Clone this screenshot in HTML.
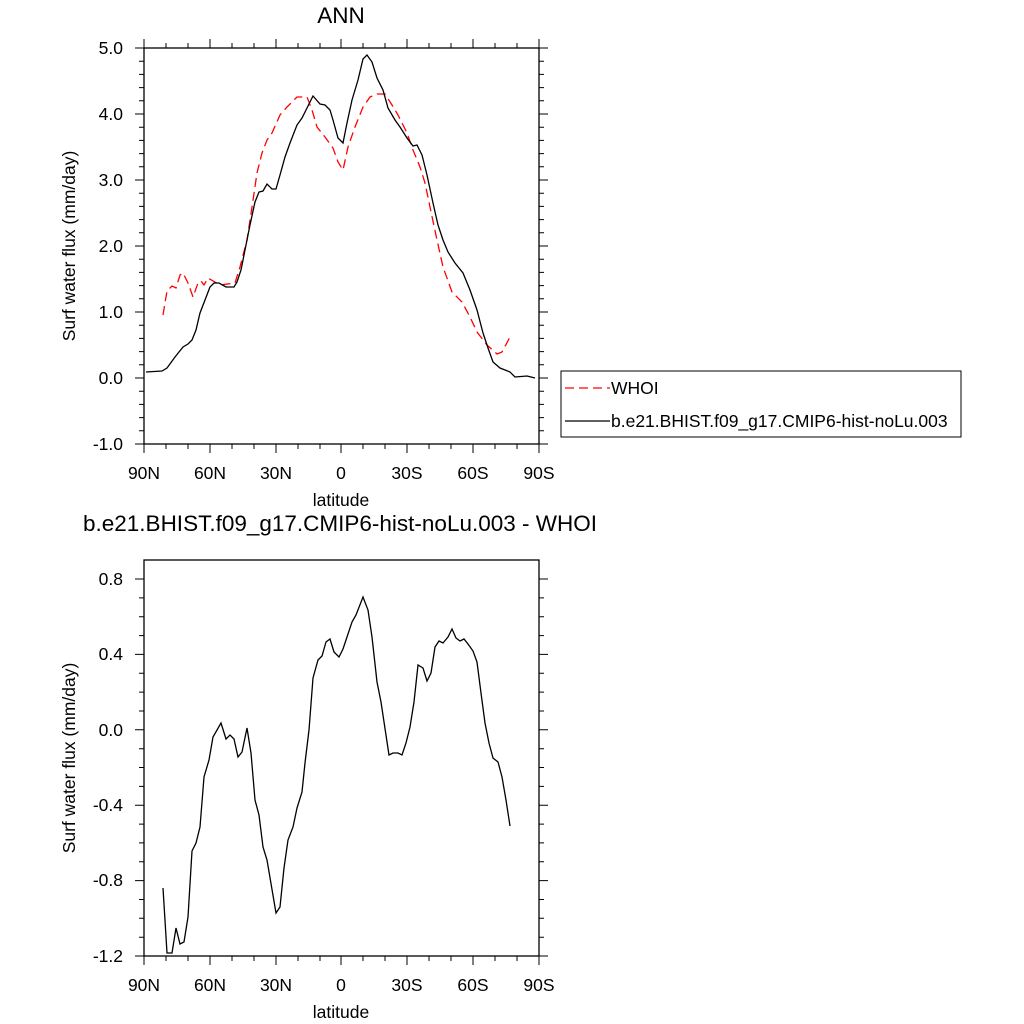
<!DOCTYPE html>
<html><head><style>body{margin:0;background:#fff}svg{display:block}text{font-family:"Liberation Sans",sans-serif;fill:#000}</style></head>
<body>
<svg width="1024" height="1024" viewBox="0 0 1024 1024">
<g id="top">
<text x="341" y="23" font-size="22.5" text-anchor="middle">ANN</text>
<rect x="144" y="48" width="395" height="396" fill="none" stroke="#000" stroke-width="1.3"/>
<g stroke="#000" stroke-width="1">
<path d="M144,48v-9M210,48v-9M276,48v-9M341,48v-9M407,48v-9M473,48v-9M539,48v-9M144,444v9M210,444v9M276,444v9M341,444v9M407,444v9M473,444v9M539,444v9"/>
<path d="M166,48v-5M188,48v-5M232,48v-5M254,48v-5M298,48v-5M320,48v-5M363,48v-5M385,48v-5M429,48v-5M451,48v-5M495,48v-5M517,48v-5M166,444v5M188,444v5M232,444v5M254,444v5M298,444v5M320,444v5M363,444v5M385,444v5M429,444v5M451,444v5M495,444v5M517,444v5"/>
<path d="M144,48h-9M144,114h-9M144,180h-9M144,246h-9M144,312h-9M144,378h-9M144,444h-9M539,48h9M539,114h9M539,180h9M539,246h9M539,312h9M539,378h9M539,444h9"/>
<path d="M144,61.2h-5M144,74.4h-5M144,87.6h-5M144,100.8h-5M144,127.2h-5M144,140.4h-5M144,153.6h-5M144,166.8h-5M144,193.2h-5M144,206.4h-5M144,219.6h-5M144,232.8h-5M144,259.2h-5M144,272.4h-5M144,285.6h-5M144,298.8h-5M144,325.2h-5M144,338.4h-5M144,351.6h-5M144,364.8h-5M144,391.2h-5M144,404.4h-5M144,417.6h-5M144,430.8h-5"/>
<path d="M539,61.2h5M539,74.4h5M539,87.6h5M539,100.8h5M539,127.2h5M539,140.4h5M539,153.6h5M539,166.8h5M539,193.2h5M539,206.4h5M539,219.6h5M539,232.8h5M539,259.2h5M539,272.4h5M539,285.6h5M539,298.8h5M539,325.2h5M539,338.4h5M539,351.6h5M539,364.8h5M539,391.2h5M539,404.4h5M539,417.6h5M539,430.8h5"/>
</g>
<g font-size="17.5" text-anchor="end">
<text x="123" y="54">5.0</text><text x="123" y="120">4.0</text><text x="123" y="186">3.0</text><text x="123" y="252">2.0</text><text x="123" y="318">1.0</text><text x="123" y="384">0.0</text><text x="123" y="450">-1.0</text>
</g>
<g font-size="17.5" text-anchor="middle">
<text x="144" y="479">90N</text><text x="210" y="479">60N</text><text x="276" y="479">30N</text><text x="341" y="479">0</text><text x="407" y="479">30S</text><text x="473" y="479">60S</text><text x="539" y="479">90S</text>
</g>
<text x="341" y="506" font-size="17.5" text-anchor="middle">latitude</text>
<text transform="translate(75,246) rotate(-90)" font-size="17.5" text-anchor="middle">Surf water flux (mm/day)</text>
<polyline fill="none" stroke="#f00" stroke-width="1.3" stroke-dasharray="9,5" points="163,315 167,291 172,286 176,288 180,275 183,273 188,283 193,297 198,283 201,281 204,285 208,278 220,285 235,283 240,267 247,240 252,207 257,173 262,153 267,140 272,133 280,115 287,107 297,97 307,97 312,110 317,127 325,137 333,148 338,162 343,170 348,147 355,127 363,107 370,97 377,94 385,94 392,105 398,115 407,133 413,150 420,167 425,183 430,207 437,240 443,267 452,292 462,302 470,317 477,332 487,345 497,354 502,352 510,337"/>
<polyline fill="none" stroke="#000" stroke-width="1.3" points="146,372 162,371 167,368 175,357 183,347 188,344 192,340 196,330 200,313 205,300 210,287 214,283 219,283 226,287 234,287 237,282 241,270 245,250 250,225 255,202 259,192 263,191 267,184 272,189 276,189 280,175 285,157 290,143 297,125 302,118 307,108 313,96 320,104 325,105 330,110 333,120 338,138 343,143 347,123 352,100 358,80 363,59 367,55 372,62 377,78 383,90 388,108 395,120 400,127 407,138 413,146 417,145 422,155 427,175 433,203 438,225 443,240 448,252 455,263 463,273 470,290 477,310 483,333 488,348 493,362 500,368 510,372 515,377 527,376 535,378"/>
<rect x="561" y="371" width="400" height="66" fill="#fff" stroke="#000" stroke-width="1"/>
<line x1="565" y1="388" x2="610" y2="388" stroke="#f00" stroke-width="1.3" stroke-dasharray="9,5"/>
<line x1="565" y1="421" x2="610" y2="421" stroke="#000" stroke-width="1.3"/>
<text x="611" y="394" font-size="17.5">WHOI</text>
<text x="611" y="427" font-size="17.5">b.e21.BHIST.f09_g17.CMIP6-hist-noLu.003</text>
</g>
<g id="bot">
<text x="340" y="531" font-size="22.5" text-anchor="middle">b.e21.BHIST.f09_g17.CMIP6-hist-noLu.003 - WHOI</text>
<rect x="144" y="560" width="395" height="396" fill="none" stroke="#000" stroke-width="1.3"/>
<g stroke="#000" stroke-width="1">
<path d="M144,956v9M210,956v9M276,956v9M341,956v9M407,956v9M473,956v9M539,956v9M166,956v5M188,956v5M232,956v5M254,956v5M298,956v5M320,956v5M363,956v5M385,956v5M429,956v5M451,956v5M495,956v5M517,956v5"/>
<path d="M144,579h-9M144,654.4h-9M144,729.8h-9M144,805.2h-9M144,880.6h-9M144,956h-9M539,579h9M539,654.4h9M539,729.8h9M539,805.2h9M539,880.6h9M539,956h9"/>
<path d="M144,597.9h-5M144,616.7h-5M144,635.6h-5M144,673.3h-5M144,692.1h-5M144,711h-5M144,748.7h-5M144,767.5h-5M144,786.4h-5M144,824.1h-5M144,842.9h-5M144,861.8h-5M144,899.5h-5M144,918.3h-5M144,937.2h-5"/>
<path d="M539,597.9h5M539,616.7h5M539,635.6h5M539,673.3h5M539,692.1h5M539,711h5M539,748.7h5M539,767.5h5M539,786.4h5M539,824.1h5M539,842.9h5M539,861.8h5M539,899.5h5M539,918.3h5M539,937.2h5"/>
</g>
<g font-size="17.5" text-anchor="end">
<text x="123" y="585">0.8</text><text x="123" y="660">0.4</text><text x="123" y="736">0.0</text><text x="123" y="811">-0.4</text><text x="123" y="886">-0.8</text><text x="123" y="962">-1.2</text>
</g>
<g font-size="17.5" text-anchor="middle">
<text x="144" y="991">90N</text><text x="210" y="991">60N</text><text x="276" y="991">30N</text><text x="341" y="991">0</text><text x="407" y="991">30S</text><text x="473" y="991">60S</text><text x="539" y="991">90S</text>
</g>
<text x="341" y="1018" font-size="17.5" text-anchor="middle">latitude</text>
<text transform="translate(75,758) rotate(-90)" font-size="17.5" text-anchor="middle">Surf water flux (mm/day)</text>
<polyline fill="none" stroke="#000" stroke-width="1.3" points="163,888 167,953 172,953 176,928 180,944 184,942 188,917 192,851 196,843 200,827 204,777 209,760 213,737 221,723 226,739 230,735 234,739 238,757 242,752 247,728 251,753 255,800 259,815 263,847 267,860 276,913 280,907 284,868 288,840 293,827 297,808 302,792 305,763 309,730 313,678 318,660 322,656 326,642 330,639 334,652 339,657 343,649 347,637 352,622 356,615 363,597 368,610 372,637 377,682 381,702 389,755 393,753 398,753 402,755 406,743 410,727 414,702 418,665 423,668 427,681 431,673 435,647 439,641 443,643 448,637 452,629 456,638 460,641 464,639 468,644 473,651 477,662 481,693 485,723 489,743 493,758 498,762 502,777 506,800 510,826"/>
</g>
</svg>
</body></html>
